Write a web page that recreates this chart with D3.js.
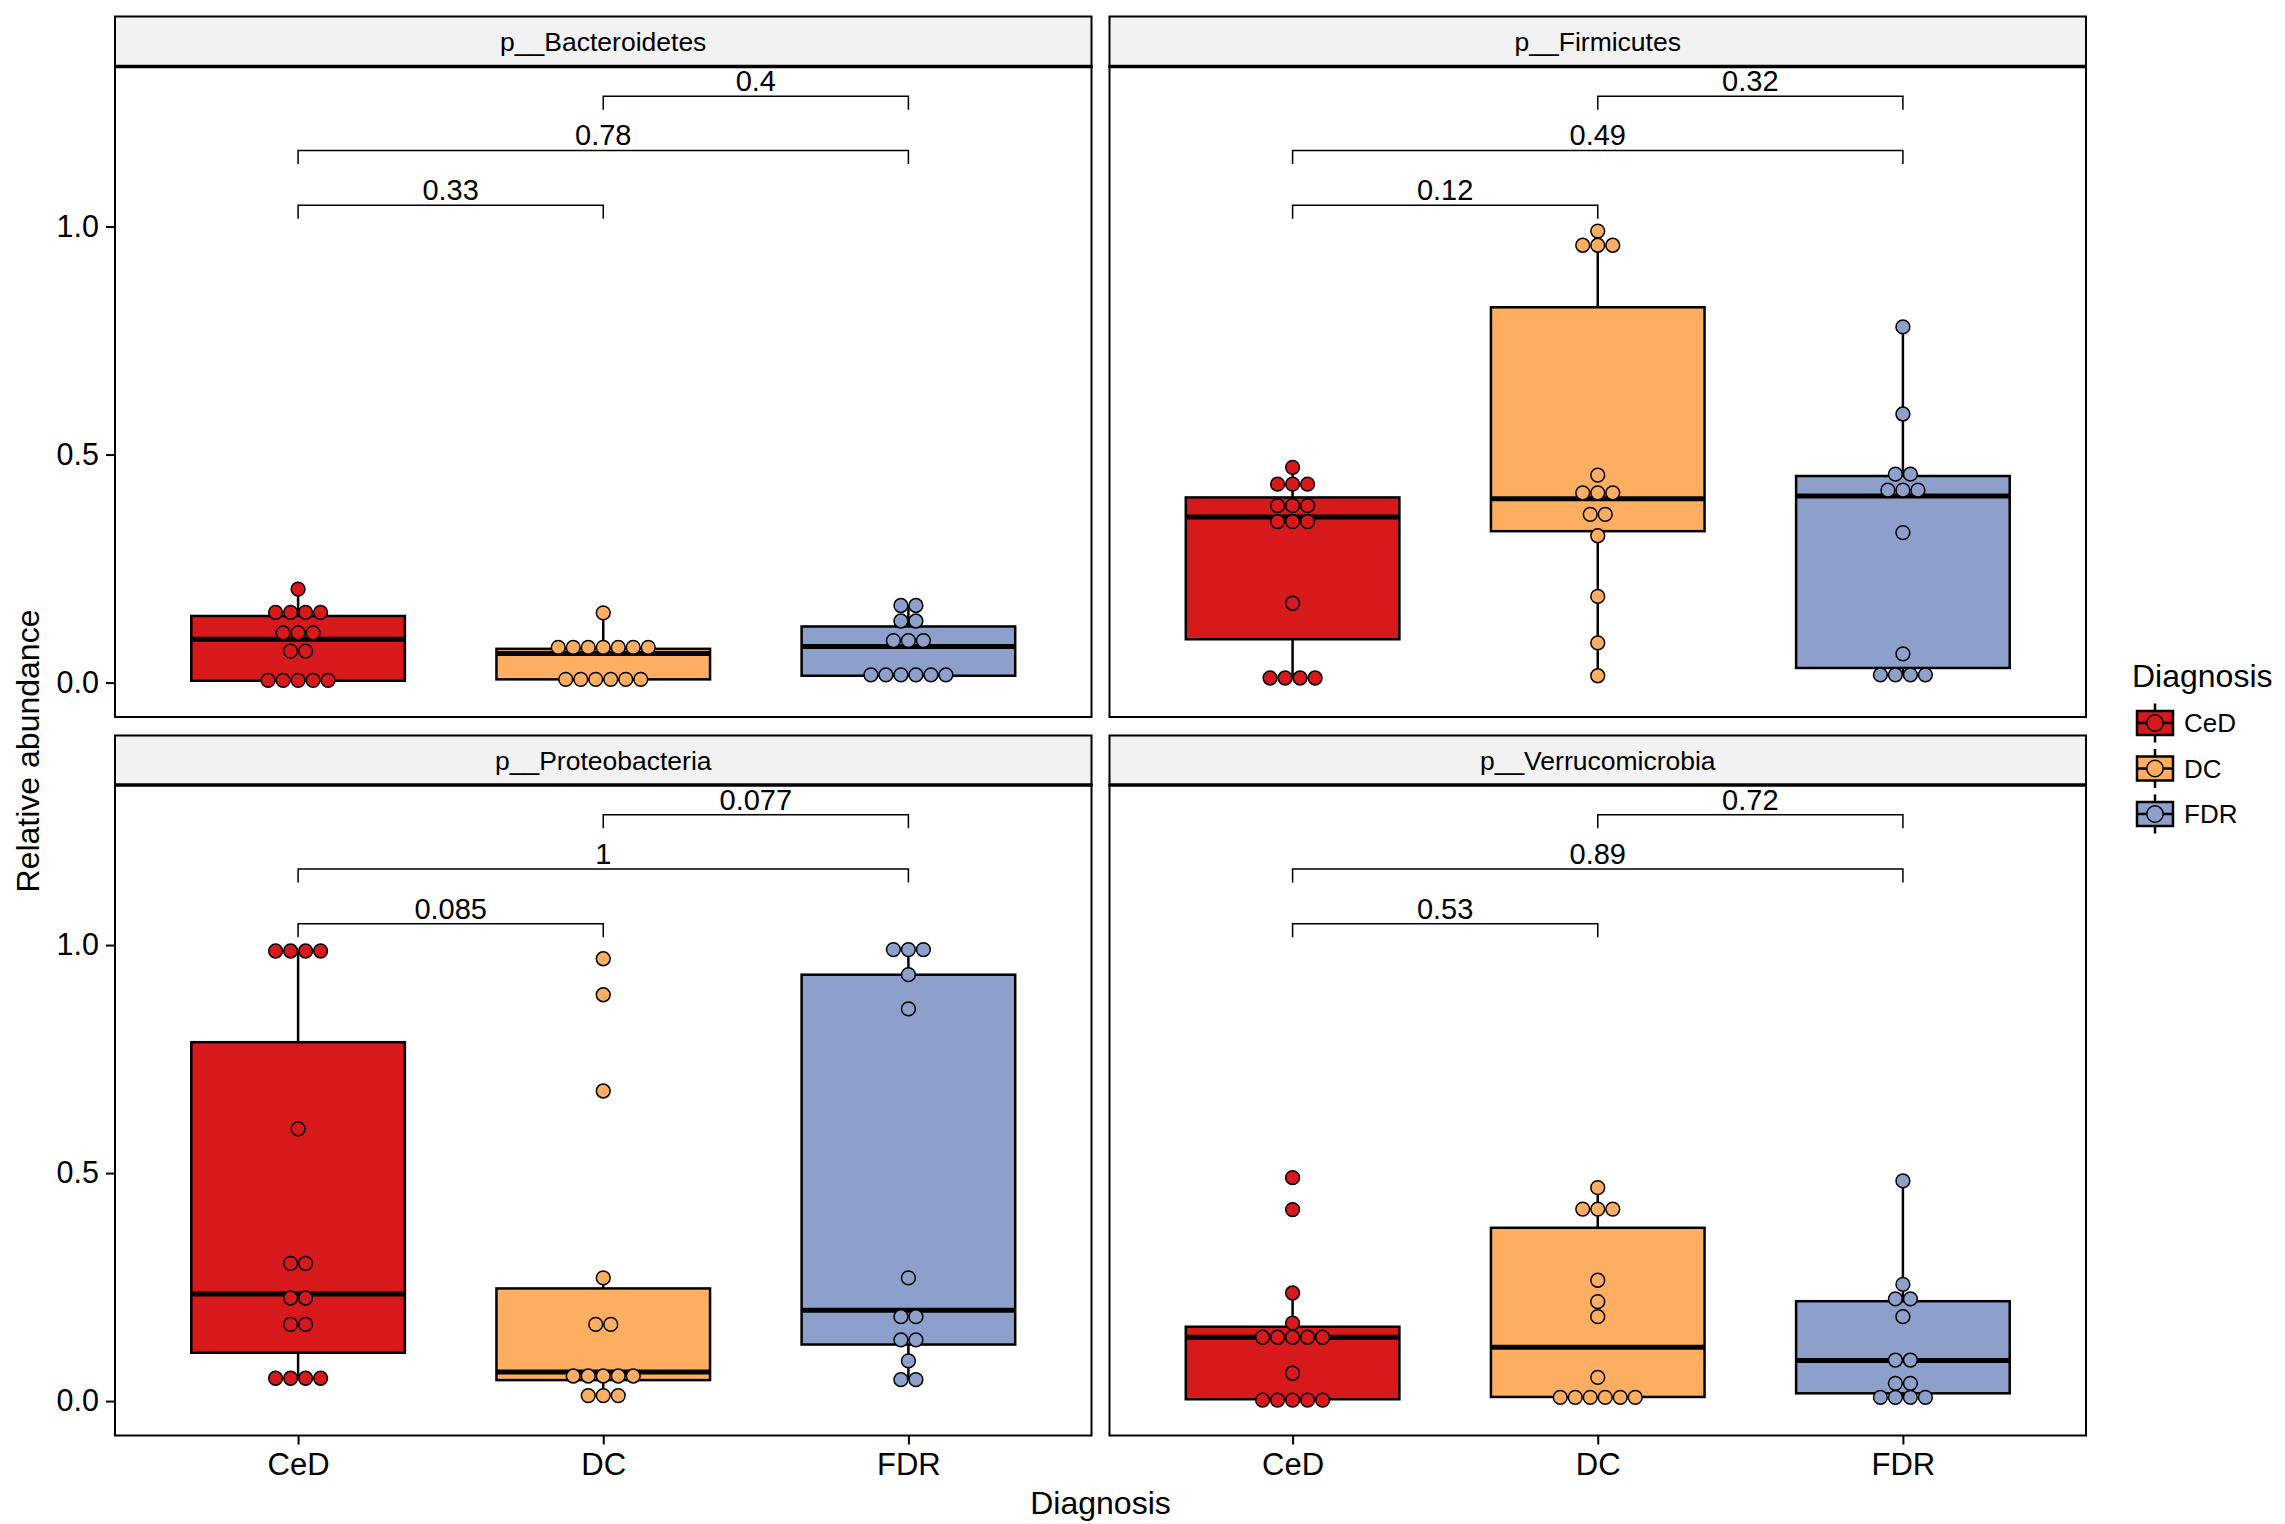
<!DOCTYPE html>
<html>
<head>
<meta charset="utf-8">
<script src="https://cdn.jsdelivr.net/npm/d3@7"></script>
<style>
  body { margin: 0; background: #fff; }
  svg { display: block; }
  text { font-family: "Liberation Sans", Arial, Helvetica, sans-serif; fill: #000; }
</style>
</head>
<body>
<svg id="chart" width="2285" height="1524"></svg>
<script>
// ---- data -------------------------------------------------------------
const groups = ["CeD", "DC", "FDR"];
const groupColors = ["#D7191C", "#FDAE61", "#8DA0CB"];
const phyla = ["p__Bacteroidetes", "p__Firmicutes", "p__Proteobacteria", "p__Verrucomicrobia"];

// relative abundance per sample (equal values stack side by side)
const bacteroidetes = {
  CeD: [0.205, 0.154, 0.154, 0.154, 0.154, 0.109, 0.109, 0.109, 0.069, 0.069, 0.005, 0.005, 0.005, 0.005, 0.005],
  DC:  [0.153, 0.077, 0.077, 0.077, 0.077, 0.077, 0.077, 0.077, 0.007, 0.007, 0.007, 0.007, 0.007, 0.007],
  FDR: [0.169, 0.169, 0.135, 0.135, 0.092, 0.092, 0.092, 0.017, 0.017, 0.017, 0.017, 0.017, 0.017]
};
const firmicutes = {
  CeD: [0.472, 0.435, 0.435, 0.435, 0.388, 0.388, 0.388, 0.353, 0.353, 0.353, 0.174, 0.010, 0.010, 0.010, 0.010],
  DC:  [0.990, 0.959, 0.959, 0.959, 0.455, 0.416, 0.416, 0.416, 0.369, 0.369, 0.322, 0.189, 0.087, 0.015],
  FDR: [0.780, 0.589, 0.457, 0.457, 0.422, 0.422, 0.422, 0.329, 0.063, 0.017, 0.017, 0.017, 0.017]
};
const proteobacteria = {
  CeD: [0.987, 0.987, 0.987, 0.987, 0.597, 0.302, 0.302, 0.226, 0.226, 0.168, 0.168, 0.050, 0.050, 0.050, 0.050],
  DC:  [0.970, 0.891, 0.680, 0.270, 0.168, 0.168, 0.055, 0.055, 0.055, 0.055, 0.055, 0.012, 0.012, 0.012],
  FDR: [0.990, 0.990, 0.990, 0.935, 0.860, 0.270, 0.185, 0.185, 0.134, 0.134, 0.088, 0.047, 0.047]
};
const verrucomicrobia = {
  CeD: [0.490, 0.420, 0.237, 0.171, 0.140, 0.140, 0.140, 0.140, 0.140, 0.061, 0.002, 0.002, 0.002, 0.002, 0.002],
  DC:  [0.468, 0.421, 0.421, 0.421, 0.265, 0.218, 0.185, 0.052, 0.008, 0.008, 0.008, 0.008, 0.008, 0.008],
  FDR: [0.483, 0.256, 0.224, 0.224, 0.185, 0.090, 0.090, 0.039, 0.039, 0.008, 0.008, 0.008, 0.008]
};

// box statistics: [lower whisker, Q1, median, Q3, upper whisker]
const bacteroidetesBox = {
  CeD: [0.005, 0.004, 0.095, 0.146, 0.205],
  DC:  [0.007, 0.007, 0.064, 0.074, 0.153],
  FDR: [0.017, 0.015, 0.079, 0.123, 0.169]
};
const firmicutesBox = {
  CeD: [0.010, 0.095, 0.363, 0.406, 0.472],
  DC:  [0.015, 0.332, 0.403, 0.823, 0.990],
  FDR: [0.017, 0.032, 0.409, 0.453, 0.780]
};
const proteobacteriaBox = {
  CeD: [0.050, 0.106, 0.235, 0.787, 0.987],
  DC:  [0.012, 0.046, 0.064, 0.247, 0.270],
  FDR: [0.047, 0.124, 0.199, 0.935, 0.990]
};
const verrucomicrobiaBox = {
  CeD: [0.002, 0.004, 0.140, 0.163, 0.237],
  DC:  [0.008, 0.009, 0.118, 0.380, 0.468],
  FDR: [0.008, 0.017, 0.089, 0.219, 0.483]
};

// pairwise tests
const comparisons = [["CeD", "DC"], ["CeD", "FDR"], ["DC", "FDR"]];
const bracketLevels = [1.047, 1.167, 1.286];
const pBacteroidetes = ["0.33", "0.78", "0.4"];
const pFirmicutes = ["0.12", "0.49", "0.32"];
const pProteobacteria = ["0.085", "1", "0.077"];
const pVerrucomicrobia = ["0.53", "0.89", "0.72"];

const yTicks = [0, 0.5, 1.0];
const yDomain = [-0.0755, 1.351];

const panelData = [
  { title: phyla[0], values: bacteroidetes, box: bacteroidetesBox, p: pBacteroidetes },
  { title: phyla[1], values: firmicutes, box: firmicutesBox, p: pFirmicutes },
  { title: phyla[2], values: proteobacteria, box: proteobacteriaBox, p: pProteobacteria },
  { title: phyla[3], values: verrucomicrobia, box: verrucomicrobiaBox, p: pVerrucomicrobia }
];

// ---- layout -----------------------------------------------------------
const cols = [[115, 1091.5], [1109.5, 2086]];
const rows = [
  { strip: 16.5, top: 66.5, bottom: 717 },
  { strip: 735.5, top: 785, bottom: 1435.5 }
];
const dotDiameter = 15;
const boxWidth = 0.7;
const tipLength = 0.03;

const svg = d3.select("#chart");
svg.append("rect").attr("width", 2285).attr("height", 1524).attr("fill", "#fff");

const color = d3.scaleOrdinal().domain(groups).range(groupColors);

panelData.forEach((pd, i) => {
  const [x0, x1] = cols[i % 2];
  const r = rows[Math.floor(i / 2)];
  const x = d3.scalePoint().domain(groups).range([x0, x1]).padding(0.6);
  const y = d3.scaleLinear().domain(yDomain).range([r.bottom, r.top]);
  const step = x.step();
  const g = svg.append("g");

  // panel background
  g.append("rect")
    .attr("x", x0).attr("y", r.top)
    .attr("width", x1 - x0).attr("height", r.bottom - r.top)
    .attr("fill", "#fff");

  // boxes and whiskers
  groups.forEach(grp => {
    const [lo, q1, med, q3, hi] = pd.box[grp];
    const cx = x(grp);
    const hw = boxWidth * step / 2;
    g.append("line").attr("x1", cx).attr("x2", cx).attr("y1", y(q3)).attr("y2", y(hi))
      .attr("stroke", "#000").attr("stroke-width", 2.5);
    g.append("line").attr("x1", cx).attr("x2", cx).attr("y1", y(q1)).attr("y2", y(lo))
      .attr("stroke", "#000").attr("stroke-width", 2.5);
    g.append("rect")
      .attr("x", cx - hw).attr("y", y(q3))
      .attr("width", 2 * hw).attr("height", y(q1) - y(q3))
      .attr("fill", color(grp)).attr("stroke", "#000").attr("stroke-width", 2.5);
    g.append("line").attr("x1", cx - hw).attr("x2", cx + hw).attr("y1", y(med)).attr("y2", y(med))
      .attr("stroke", "#000").attr("stroke-width", 5);
  });

  // centred dot stacks
  groups.forEach(grp => {
    const stacks = d3.rollups(pd.values[grp], v => v.length, v => v);
    stacks.forEach(([val, n]) => {
      for (let k = 0; k < n; k++) {
        g.append("circle")
          .attr("cx", x(grp) + (k - (n - 1) / 2) * dotDiameter)
          .attr("cy", y(val))
          .attr("r", dotDiameter / 2 - 0.6)
          .attr("fill", color(grp))
          .attr("stroke", "#000").attr("stroke-width", 1.5);
      }
    });
  });

  // comparison brackets
  comparisons.forEach((cmp, j) => {
    const xa = x(cmp[0]), xb = x(cmp[1]);
    const yl = y(bracketLevels[j]);
    const yt = y(bracketLevels[j] - tipLength);
    g.append("path")
      .attr("d", `M${xa},${yt}V${yl}H${xb}V${yt}`)
      .attr("fill", "none").attr("stroke", "#000").attr("stroke-width", 1.5);
    g.append("text")
      .attr("x", (xa + xb) / 2).attr("y", yl - 5)
      .attr("text-anchor", "middle")
      .attr("font-size", 29)
      .text(pd.p[j]);
  });

  // panel border
  g.append("rect")
    .attr("x", x0).attr("y", r.top)
    .attr("width", x1 - x0).attr("height", r.bottom - r.top)
    .attr("fill", "none").attr("stroke", "#000").attr("stroke-width", 2);

  // facet strip
  g.append("rect")
    .attr("x", x0).attr("y", r.strip)
    .attr("width", x1 - x0).attr("height", r.top - r.strip)
    .attr("fill", "#F2F2F2").attr("stroke", "#000").attr("stroke-width", 2);
  g.append("line")
    .attr("x1", x0 - 1).attr("x2", x1 + 1).attr("y1", r.top).attr("y2", r.top)
    .attr("stroke", "#000").attr("stroke-width", 3.6);
  g.append("text")
    .attr("x", (x0 + x1) / 2).attr("y", r.strip + 34)
    .attr("text-anchor", "middle")
    .attr("font-size", 26.5)
    .text(pd.title);

  // y axis on the left column
  if (i % 2 === 0) {
    const ya = g.append("g").attr("transform", `translate(${x0},0)`)
      .call(d3.axisLeft(y).tickValues(yTicks).tickFormat(d3.format(".1f")).tickSize(9).tickPadding(7));
    ya.select(".domain").remove();
    ya.selectAll("line").attr("stroke", "#000").attr("stroke-width", 2);
    ya.selectAll("text").attr("font-size", 30.5).attr("font-family", "Liberation Sans, Arial, sans-serif");
  }
  // x axis on the bottom row
  if (i >= 2) {
    const xa = g.append("g").attr("transform", `translate(0,${r.bottom})`)
      .call(d3.axisBottom(x).tickSize(9).tickPadding(8));
    xa.select(".domain").remove();
    xa.selectAll("line").attr("stroke", "#000").attr("stroke-width", 2);
    xa.selectAll("text").attr("font-size", 31).attr("font-family", "Liberation Sans, Arial, sans-serif");
  }
});

// axis titles
svg.append("text")
  .attr("x", (cols[0][0] + cols[1][1]) / 2).attr("y", 1514)
  .attr("text-anchor", "middle").attr("font-size", 32)
  .text("Diagnosis");
svg.append("text")
  .attr("transform", `translate(39,${(rows[0].top + rows[1].bottom) / 2}) rotate(-90)`)
  .attr("text-anchor", "middle").attr("font-size", 32)
  .text("Relative abundance");

// legend
const legend = svg.append("g");
legend.append("text").attr("x", 2132).attr("y", 687).attr("font-size", 32).text("Diagnosis");
const keyY = d3.scalePoint().domain(groups).range([723, 814]);
groups.forEach(grp => {
  const cy = keyY(grp), cx = 2155;
  legend.append("line").attr("x1", cx).attr("x2", cx).attr("y1", cy - 19.5).attr("y2", cy + 19.5)
    .attr("stroke", "#000").attr("stroke-width", 2.5);
  legend.append("rect").attr("x", cx - 18).attr("y", cy - 12).attr("width", 36).attr("height", 24)
    .attr("fill", color(grp)).attr("stroke", "#000").attr("stroke-width", 2.5);
  legend.append("line").attr("x1", cx - 18).attr("x2", cx + 18).attr("y1", cy).attr("y2", cy)
    .attr("stroke", "#000").attr("stroke-width", 2.5);
  legend.append("circle").attr("cx", cx).attr("cy", cy).attr("r", 8.2)
    .attr("fill", color(grp)).attr("stroke", "#000").attr("stroke-width", 1.5);
  legend.append("text").attr("x", 2184).attr("y", cy).attr("dy", "0.36em")
    .attr("font-size", 26).text(grp);
});
</script>
</body>
</html>
